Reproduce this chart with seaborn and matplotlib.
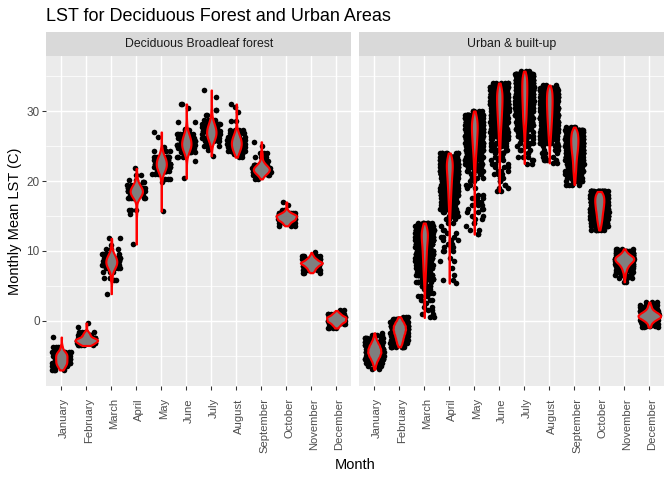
import numpy as np
import pandas as pd
import matplotlib
matplotlib.use("Agg")
import matplotlib.pyplot as plt
from matplotlib.transforms import ScaledTranslation
import seaborn as sns

months = ["January", "February", "March", "April", "May", "June", "July",
          "August", "September", "October", "November", "December"]
panels = ["Deciduous Broadleaf forest", "Urban & built-up"]
y_ticks = [0, 10, 20, 30]

# LST levels (C) and how many pixels sit near each level
f_jan_lst = [-2.3, -3.7, -4.5, -5, -5.5, -6, -6.5, -7]
f_jan_n = [1, 4, 14, 16, 14, 16, 10, 4]
f_feb_lst = [-0.3, -0.8, -1.6, -2, -2.5, -2.8, -3.2, -3.5]
f_feb_n = [1, 1, 5, 9, 16, 24, 16, 5]
f_mar_lst = [11.8, 10.9, 10.3, 9.5, 9, 8.5, 8, 7.5, 7, 6.2, 5.8, 3.9]
f_mar_n = [2, 1, 3, 9, 13, 17, 14, 9, 3, 3, 2, 1]
f_apr_lst = [21.8, 20.9, 20.2, 19.9, 19.4, 19, 18.5, 18, 17.5, 15.9, 15.3, 11]
f_apr_n = [1, 2, 2, 3, 7, 15, 22, 15, 7, 3, 1, 1]
f_may_lst = [27, 26.3, 24.9, 24.3, 23.5, 23, 22.5, 22, 21.5, 21, 20.3, 19.9, 15.7]
f_may_n = [1, 1, 1, 4, 11, 14, 15, 15, 11, 4, 3, 1, 1]
f_jun_lst = [31, 30.5, 28.4, 27.5, 27.3, 26.7, 26.2, 25.7, 25.2, 24.7, 24.2, 23.5, 22.8, 20.4]
f_jun_n = [2, 1, 2, 1, 3, 8, 11, 14, 15, 14, 8, 3, 1, 1]
f_jul_lst = [33, 32, 30.2, 29.5, 28.7, 28.2, 27.7, 27.2, 26.7, 26.2, 25.7, 25, 24.5, 23.6]
f_jul_n = [1, 1, 2, 2, 5, 8, 12, 15, 15, 12, 8, 3, 1, 1]
f_aug_lst = [31, 30.6, 29.8, 28.6, 27.3, 26.8, 26.3, 25.8, 25.3, 24.8, 24.3, 23.8, 23.4]
f_aug_n = [1, 1, 1, 2, 4, 6, 12, 15, 17, 14, 11, 4, 2]
f_sep_lst = [25.6, 25, 24, 23.5, 22.8, 22.3, 21.8, 21.3, 20.8, 20.3]
f_sep_n = [1, 1, 3, 3, 5, 14, 28, 24, 9, 2]
f_oct_lst = [17, 16.6, 15.9, 15.4, 15, 14.5, 14, 13.6]
f_oct_n = [1, 1, 3, 12, 28, 24, 9, 3]
f_nov_lst = [9.8, 9.3, 8.8, 8.3, 7.8, 7.3, 6.9]
f_nov_n = [1, 6, 16, 36, 18, 10, 3]
f_dec_lst = [1.5, 1, 0.5, 0, -0.5, -1]
f_dec_n = [2, 11, 26, 24, 11, 4]

u_jan_lst = [-1.7, -2, -2.5, -3, -3.5, -4, -4.5, -5, -5.5, -6, -6.5, -6.9]
u_jan_n = [1, 4, 10, 20, 32, 40, 42, 34, 22, 12, 6, 2]
u_feb_lst = [0.6, 0.3, -0.2, -0.7, -1.2, -1.7, -2.2, -2.7, -3.2, -3.7]
u_feb_n = [3, 14, 30, 42, 44, 38, 30, 24, 18, 8]
u_mar_lst = [14, 13.5, 13, 12.5, 12, 11.5, 11, 10.5, 10, 9.5, 9, 8.5, 8, 7.5, 7, 6.5, 6, 5.5, 5,
             4.5, 4, 3.5, 3, 2.5, 2, 1.5, 1, 0.5]
u_mar_n = [8, 28, 38, 40, 40, 36, 32, 28, 26, 24, 22, 20, 18, 16, 14, 12, 10, 8, 5,
           3, 3, 3, 3, 2, 2, 2, 2, 2]
u_apr_lst = [24, 23.5, 23, 22.5, 22, 21.5, 21, 20.5, 20, 19.5, 19, 18.5, 18, 17.5, 17, 16.5, 16,
             15.5, 15, 14.5, 14, 13.5, 13, 12.5, 12, 11.5, 11, 10.5, 10, 9, 8.5, 7.5, 6.5, 5.8, 5.4]
u_apr_n = [8, 30, 40, 42, 42, 38, 34, 30, 28, 26, 22, 20, 18, 16, 14, 12, 10,
           8, 6, 3, 2, 1, 2, 2, 3, 3, 3, 3, 3, 1, 2, 1, 1, 2, 1]
u_may_lst = [30, 29.5, 29, 28.5, 28, 27.5, 27, 26.5, 26, 25.5, 25, 24.5, 24, 23.5, 23, 22.5, 22,
             21.5, 21, 20.5, 20, 19.5, 19, 18, 17.5, 17, 16.5, 16, 15.5, 15, 14.5, 14, 13.5, 13, 12.4]
u_may_n = [5, 24, 36, 40, 42, 42, 40, 36, 34, 30, 28, 24, 20, 16, 14, 12, 10,
           8, 6, 4, 2, 2, 2, 2, 3, 3, 3, 3, 2, 2, 2, 2, 1, 2, 2]
u_jun_lst = [34, 33.5, 33, 32.5, 32, 31.5, 31, 30.5, 30, 29.5, 29, 28.5, 28, 27.5, 27, 26.5, 26,
             25.5, 25, 24.5, 24, 23.5, 23, 22.5, 22, 21.5, 21, 20.5, 20, 19.5, 19, 18.5]
u_jun_n = [6, 26, 36, 40, 40, 40, 38, 36, 34, 30, 28, 26, 22, 18, 16, 14, 12,
           10, 9, 6, 5, 3, 3, 3, 3, 3, 3, 2, 2, 2, 2, 2]
u_jul_lst = [35.7, 35.3, 35, 34.5, 34, 33.5, 33, 32.5, 32, 31.5, 31, 30.5, 30, 29.5, 29, 28.5, 28,
             27.5, 27, 26.5, 26, 25.5, 25, 24.5, 24, 23.5, 23, 22.5]
u_jul_n = [3, 20, 30, 38, 40, 40, 40, 40, 38, 36, 34, 32, 30, 28, 26, 22, 18,
           14, 10, 7, 5, 5, 4, 3, 2, 3, 2, 2]
u_aug_lst = [33.7, 33.3, 33, 32.5, 32, 31.5, 31, 30.5, 30, 29.5, 29, 28.5, 28, 27.5, 27, 26.5, 26,
             25.5, 25, 24.5, 24, 23.5, 23, 22.6]
u_aug_n = [3, 18, 30, 38, 40, 40, 40, 38, 36, 34, 32, 28, 26, 22, 20, 16, 14,
           10, 5, 4, 3, 3, 4, 2]
u_sep_lst = [27.7, 27.3, 27, 26.5, 26, 25.5, 25, 24.5, 24, 23.5, 23, 22.5, 22, 21.5, 21, 20.5, 20, 19.5]
u_sep_n = [4, 20, 36, 46, 50, 48, 46, 42, 36, 30, 26, 22, 20, 18, 14, 10, 8, 4]
u_oct_lst = [18.5, 18, 17.5, 17, 16.5, 16, 15.5, 15, 14.5, 14, 13.5, 13]
u_oct_n = [22, 42, 48, 48, 44, 40, 34, 30, 26, 20, 14, 6]
u_nov_lst = [10.3, 10, 9.7, 9.4, 9.1, 8.8, 8.5, 8.2, 7.9, 7.6, 7.3, 7, 6.6, 6.2, 5.6]
u_nov_n = [4, 8, 16, 30, 44, 46, 40, 28, 20, 14, 10, 8, 6, 4, 2]
u_dec_lst = [2.7, 2.3, 2, 1.7, 1.4, 1.1, 0.8, 0.5, 0.2, -0.1, -0.4, -0.7, -0.9]
u_dec_n = [3, 6, 8, 12, 22, 36, 46, 44, 28, 16, 8, 5, 3]

forest_lst = [f_jan_lst, f_feb_lst, f_mar_lst, f_apr_lst, f_may_lst, f_jun_lst,
              f_jul_lst, f_aug_lst, f_sep_lst, f_oct_lst, f_nov_lst, f_dec_lst]
forest_n = [f_jan_n, f_feb_n, f_mar_n, f_apr_n, f_may_n, f_jun_n,
            f_jul_n, f_aug_n, f_sep_n, f_oct_n, f_nov_n, f_dec_n]
urban_lst = [u_jan_lst, u_feb_lst, u_mar_lst, u_apr_lst, u_may_lst, u_jun_lst,
             u_jul_lst, u_aug_lst, u_sep_lst, u_oct_lst, u_nov_lst, u_dec_lst]
urban_n = [u_jan_n, u_feb_n, u_mar_n, u_apr_n, u_may_n, u_jun_n,
           u_jul_n, u_aug_n, u_sep_n, u_oct_n, u_nov_n, u_dec_n]


def long_table(levels, counts):
    rows = []
    for month, lv, cn in zip(months, levels, counts):
        rows.append(pd.DataFrame({"Month": month, "LST": np.repeat(lv, cn)}))
    return pd.concat(rows, ignore_index=True)


tables = [long_table(forest_lst, forest_n), long_table(urban_lst, urban_n)]

W, H = 672, 480
sns.set_theme(style="white", rc={"axes.facecolor": "#EBEBEB"})
plt.rcParams["font.family"] = ["Liberation Sans", "DejaVu Sans"]
fig = plt.figure(figsize=(W / 96, H / 96), dpi=96, facecolor="white")


def box(x0, x1, y0, y1):
    return [x0 / W, 1 - y1 / H, (x1 - x0) / W, (y1 - y0) / H]


spans = [(46.3, 351.3), (359.3, 664.3)]
smoothing = [1.0, 0.7]
for i, (data, name, (x0, x1)) in enumerate(zip(tables, panels, spans)):
    ax = fig.add_axes(box(x0, x1, 56, 386))
    sns.stripplot(data=data, x="Month", y="LST", order=months, color="black",
                  size=4.2, jitter=0.37, linewidth=0, ax=ax, zorder=3)
    n_points = len(ax.collections)
    sns.violinplot(data=data, x="Month", y="LST", order=months, color="#7F7F7F",
                   saturation=1, linecolor="red", linewidth=1.6, inner=None, cut=0,
                   density_norm="area", width=0.9, gridsize=256, bw_adjust=smoothing[i], ax=ax)
    for c in ax.collections[n_points:]:
        c.set_zorder(4)
    ax.set_xlim(-0.6, 11.6)
    ax.set_ylim(-9.29, 37.86)
    ax.set_facecolor("#EBEBEB")
    for s in ax.spines.values():
        s.set_visible(False)
    ax.set_axisbelow(True)
    ax.set_yticks(y_ticks)
    ax.set_yticks([-5, 5, 15, 25, 35], minor=True)
    ax.grid(True, which="major", color="white", lw=1.07)
    ax.grid(True, which="minor", axis="y", color="white", lw=0.53)
    ax.set_xticks(range(12))
    ax.set_xticklabels(months, rotation=90, fontsize=8.4, color="#4D4D4D", va="top", ha="center")
    ax.tick_params(axis="x", which="major", bottom=True, length=2.75, width=0.8, color="#333333", pad=6.5)
    for lab in ax.get_xticklabels():
        lab.set_transform(lab.get_transform() + ScaledTranslation(3 / 96, 0, fig.dpi_scale_trans))
    ax.tick_params(axis="y", which="minor", left=False, length=0)
    if i == 0:
        ax.tick_params(axis="y", which="major", left=True, length=2.75, width=0.8, color="#333333",
                       labelsize=8.8, labelcolor="#4D4D4D", pad=2.2)
    else:
        ax.tick_params(axis="y", which="major", length=0, labelleft=False)
    ax.set_xlabel("")
    ax.set_ylabel("")

    strip = fig.add_axes(box(x0, x1, 32, 56))
    strip.set_facecolor("#D9D9D9")
    strip.set_xticks([])
    strip.set_yticks([])
    for s in strip.spines.values():
        s.set_visible(False)
    strip.text(0.5, 0.5, name, ha="center", va="center", fontsize=9.2, color="#1A1A1A",
               transform=strip.transAxes)

fig.text(46 / W, 1 - 16.5 / H, "LST for Deciduous Forest and Urban Areas", fontsize=13.5,
         color="black", ha="left", va="center")
fig.text(355 / W, 1 - 465 / H, "Month", fontsize=11, color="black", ha="center", va="center")
fig.text(15 / W, 1 - 221 / H, "Monthly Mean LST (C)", fontsize=11, color="black",
         rotation=90, ha="center", va="center")

fig.savefig("out.png", dpi=96)
